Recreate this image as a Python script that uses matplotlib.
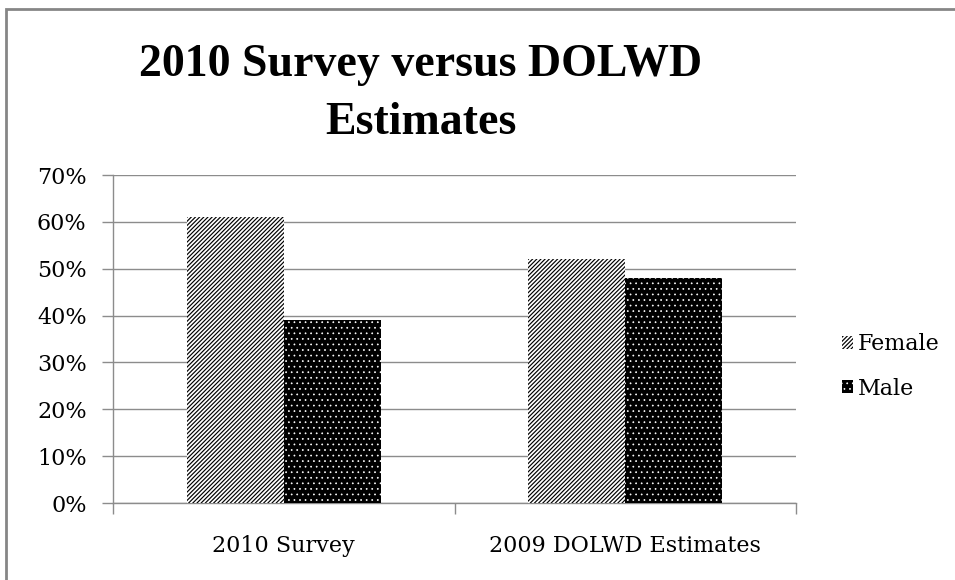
import matplotlib
matplotlib.use("Agg")
import matplotlib.pyplot as plt
from matplotlib.patches import Rectangle, Patch
from matplotlib.ticker import FuncFormatter, FixedLocator
import numpy as np

title_lines = ["2010 Survey versus DOLWD", "Estimates"]
categories = ["2010 Survey", "2009 DOLWD Estimates"]
series_names = ["Female", "Male"]
female = [61, 52]
male = [39, 48]
yticks = [0, 10, 20, 30, 40, 50, 60, 70]

F_HATCH = "/" * 8
M_HATCH = "..."
F_LW = 0.85
M_LW = 0.5


def set_hlw(artists, lw):
    for a in artists:
        if hasattr(a, "set_hatch_linewidth"):
            a.set_hatch_linewidth(lw)
        else:
            a._hatch_linewidth = lw


W, H = 955, 580
fig = plt.figure(figsize=(W / 100, H / 100), dpi=100)
fig.patch.set_facecolor("white")

# chart border (top and left visible; right/bottom cropped off)
fig.add_artist(Rectangle((6 / W, -0.1), 1.2, 1.1 - 9.5 / H,
                         transform=fig.transFigure, fill=False,
                         edgecolor="#868686", linewidth=2.0))

ax = fig.add_axes([113 / W, 1 - 503 / H, (796 - 113) / W, (503 - 175) / H])
x = np.arange(len(categories))
bw = 0.284
plt.rcParams["hatch.linewidth"] = F_LW
bf = ax.bar(x - bw / 2, female, width=bw, facecolor="white", edgecolor="black",
            linewidth=0, hatch=F_HATCH, zorder=3, label=series_names[0])
set_hlw(bf, F_LW)
plt.rcParams["hatch.linewidth"] = M_LW
bm = ax.bar(x + bw / 2, male, width=bw, facecolor="black", edgecolor="white",
            linewidth=0, hatch=M_HATCH, zorder=3, label=series_names[1])
set_hlw(bm, M_LW)

ax.set_xlim(-0.5, len(categories) - 0.5)
ax.set_ylim(0, 70)
ax.set_yticks(yticks)
ax.yaxis.set_major_formatter(FuncFormatter(lambda v, p: f"{int(v)}%"))
ax.yaxis.grid(True, color="#8c8c8c", linewidth=1.0, zorder=0)
ax.set_axisbelow(True)

for s in ["top", "right"]:
    ax.spines[s].set_visible(False)
for s in ["left", "bottom"]:
    ax.spines[s].set_color("#8c8c8c")
    ax.spines[s].set_linewidth(1.0)

serif = ["DejaVu Serif"]
ax.set_xticks(x)
ax.set_xticklabels(categories, fontfamily=serif, fontsize=16)
ax.tick_params(axis="x", which="major", length=0, pad=23)
ax.xaxis.set_minor_locator(FixedLocator(np.arange(-0.5, len(categories), 1.0)))
ax.tick_params(axis="x", which="minor", length=8, color="#8c8c8c", width=1)
ax.tick_params(axis="y", length=8, color="#8c8c8c", width=1, pad=11)
for lab in ax.get_yticklabels():
    lab.set_fontfamily(serif)
    lab.set_fontsize(16)

tfont = dict(fontfamily=["Liberation Serif", "DejaVu Serif"], fontweight="bold",
             fontsize=33, ha="center", va="baseline")
fig.text(421 / W, 1 - 76 / H, title_lines[0], **tfont)
fig.text(421 / W, 1 - 134 / H, title_lines[1], **tfont)

hf = Patch(facecolor="white", edgecolor="black", linewidth=0, hatch=F_HATCH)
hm = Patch(facecolor="black", edgecolor="white", linewidth=0, hatch=M_HATCH)
set_hlw([hf], F_LW)
set_hlw([hm], M_LW)
leg = fig.legend([hf, hm], series_names, loc="center left",
                 bbox_to_anchor=(842 / W, 1 - 366.5 / H), frameon=False,
                 borderpad=0, borderaxespad=0,
                 prop={"family": serif, "size": 16}, handlelength=0.5,
                 handleheight=0.5, handletextpad=0.2, labelspacing=1.0)
for p, lw in zip(leg.get_patches(), [F_LW, M_LW]):
    set_hlw([p], lw)

fig.savefig("out.png", dpi=100)
